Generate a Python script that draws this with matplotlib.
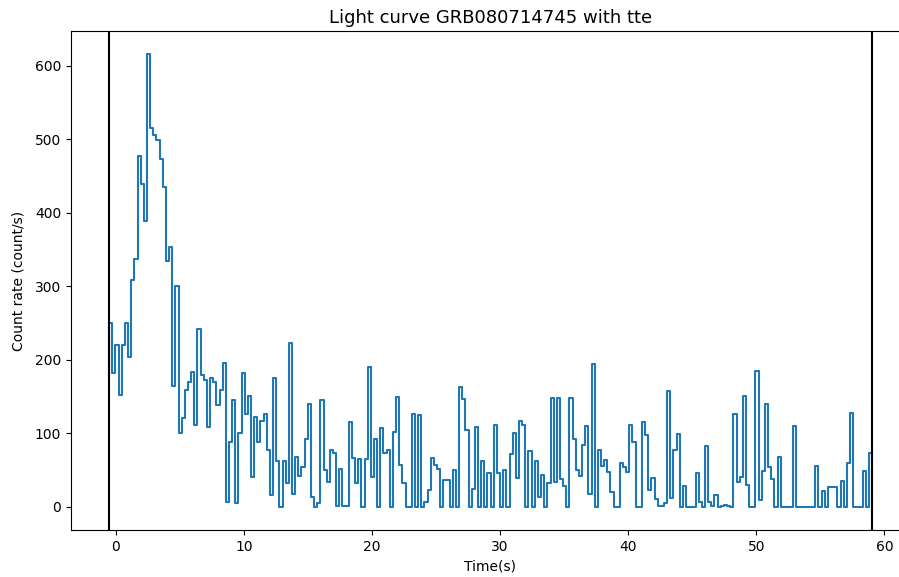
import numpy as np
import matplotlib
matplotlib.use("Agg")
import matplotlib.pyplot as plt

title = "Light curve GRB080714745 with tte"
t_start = -0.52
t_stop = 59.04

rate_initial = [177]
rate_burst = [250, 182, 220, 152, 220, 250, 204, 309, 337, 477, 439, 389, 616, 515, 506, 499,
              474, 436, 335, 354, 164, 301, 100, 121, 159, 170, 183, 112, 242, 180, 173, 109,
              175, 170, 139, 159, 196, 7, 89, 146, 5]
rate_mid1 = [100, 182, 126, 151, 41, 122, 89, 117, 126, 77, 16, 176, 62, 0, 63, 33, 223, 18,
             68, 42, 54, 93, 140, 14, 0, 5, 145, 50, 34, 77, 73, 2, 52, 2, 2, 115, 66, 32, 65]
rate_mid2 = [0, 65, 191, 41, 93, 0, 107, 73, 77, 0, 102, 150, 57, 32, 0, 0, 127, 0, 125, 0, 7,
             23, 66, 57, 52, 0, 37, 37, 0, 50, 0, 163, 147, 105, 0, 24, 109, 0, 63, 0, 46]
rate_mid3 = [0, 112, 46, 0, 50, 0, 72, 101, 39, 117, 112, 0, 76, 0, 63, 14, 43, 0, 33,
             148, 34, 148, 38, 28, 0, 148, 93, 51, 42, 85, 110, 17, 195, 0, 77, 56, 64, 48, 21]
rate_late1 = [0, 0, 60, 54, 48, 112, 89, 0, 0, 116, 98, 23, 40, 11, 2, 2, 5, 158, 12, 77, 99,
              0, 29, 0, 0, 0, 46, 7, 0, 83, 7, 2, 16, 0, 2, 3, 2, 0]
rate_late2 = [126, 34, 41, 151, 30, 0, 0, 185, 9, 49, 140, 55, 38, 0, 68, 0, 0, 0, 0, 110,
              0, 0, 0, 0, 0, 0, 56, 0, 22, 0, 27, 27, 27, 0, 35, 0, 60, 128, 0, 0, 0, 49, 0, 74]

rates = np.array(rate_initial + rate_burst + rate_mid1 + rate_mid2 + rate_mid3
                 + rate_late1 + rate_late2, dtype=float)
n_bins = len(rates) - 1
edges = np.linspace(t_start, t_stop, n_bins + 1)

fig = plt.figure(figsize=(8.99, 5.77), dpi=100)
# axes run slightly past the right edge of the image, as in the reference
ax = fig.add_axes([71 / 899, 47 / 577, 839 / 899, 499 / 577])
ax.step(edges, rates, color="#1f77b4", linewidth=1.5)
ax.axvline(t_start, color="black", linewidth=1.5)
ax.axvline(t_stop, color="black", linewidth=1.5)
ax.set_xlim(-3.5, 62.0)
ax.set_ylim(-31.3, 647.6)
ax.set_xticks([0, 10, 20, 30, 40, 50, 60])
ax.set_yticks([0, 100, 200, 300, 400, 500, 600])
ax.set_title(title, fontsize=13)
ax.set_xlabel("Time(s)")
ax.set_ylabel("Count rate (count/s)", labelpad=6.9)
fig.savefig("out.png", dpi=100)
